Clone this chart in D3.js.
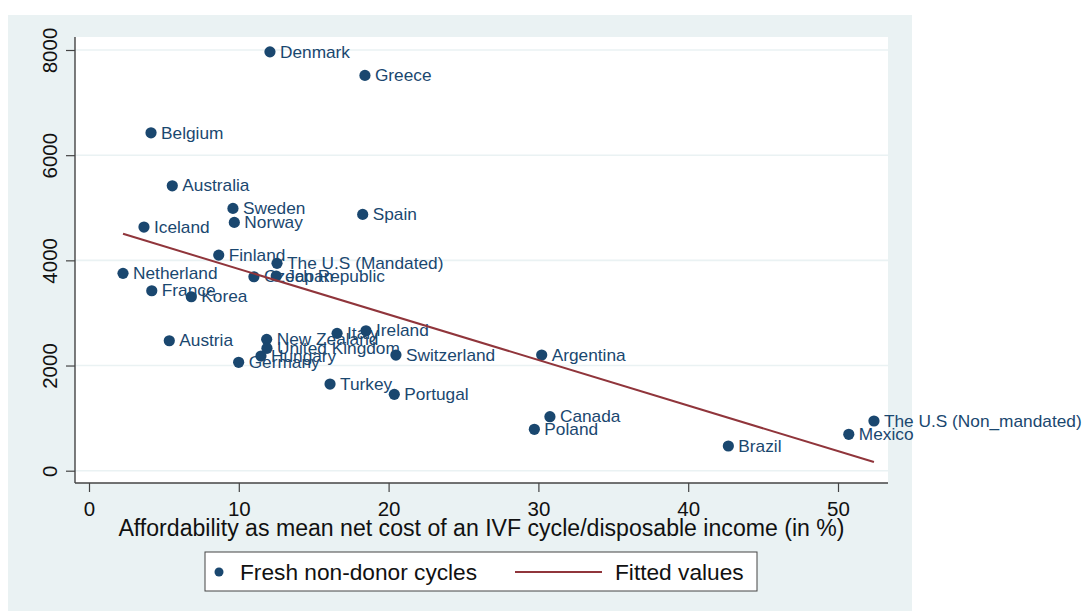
<!DOCTYPE html>
<html>
<head>
<meta charset="utf-8">
<script src="https://cdn.jsdelivr.net/npm/d3@7"></script>
<style>
  html, body { margin: 0; padding: 0; background: #fff; }
  svg { display: block; font-family: "Liberation Sans", Arial, sans-serif; }
</style>
</head>
<body>
<div id="chart"></div>
<script>
// countries, affordability (% of disposable income) and fresh non-donor cycles
const countries = [
  'Denmark', 'Greece', 'Belgium', 'Australia', 'Sweden', 'Norway', 'Spain',
  'Iceland', 'Finland', 'The U.S (Mandated)', 'Czech Republic', 'Japan',
  'Netherland', 'France', 'Korea', 'Austria', 'New Zealand', 'United Kingdom',
  'Hungary', 'Germany', 'Italy', 'Ireland', 'Switzerland', 'Turkey', 'Portugal',
  'Argentina', 'Canada', 'Poland', 'Brazil', 'Mexico', 'The U.S (Non_mandated)'
];
const affordability = [
  12.08, 18.42, 4.14, 5.56, 9.61, 9.70, 18.27,
  3.67, 8.66, 12.55, 11.01, 12.50,
  2.27, 4.19, 6.83, 5.36, 11.86, 11.88,
  11.48, 9.99, 16.56, 18.49, 20.49, 16.09, 20.38,
  30.22, 30.77, 29.73, 42.68, 50.72, 52.40
];
const cycles = [
  7965, 7517, 6425, 5418, 4988, 4722, 4874,
  4633, 4100, 3943, 3688, 3701,
  3753, 3422, 3308, 2471, 2498, 2327,
  2180, 2061, 2612, 2661, 2199, 1648, 1452,
  2199, 1027, 787, 470, 692, 945
];
// fitted values line (end points)
const fitX = [2.27, 52.40];
const fitY = [4505, 165];

const xTicks = [0, 10, 20, 30, 40, 50];
const yTicks = [0, 2000, 4000, 6000, 8000];

const xTitle = 'Affordability as mean net cost of an IVF cycle/disposable income (in %)';
const legendLabels = ['Fresh non-donor cycles', 'Fitted values'];

const W = 1086, H = 611;
const navy = '#1a476f', maroon = '#90353b', bluish = '#eaf2f3';

const plot = { left: 75, top: 37, right: 888, bottom: 483 };

const svg = d3.select('#chart').append('svg')
    .attr('width', W)
    .attr('height', H)
    .attr('viewBox', [0, 0, W, H]);

// graph region + plot region
svg.append('rect')
    .attr('x', 8).attr('y', 15)
    .attr('width', 904).attr('height', H - 15)
    .attr('fill', bluish);
svg.append('rect')
    .attr('x', plot.left).attr('y', plot.top)
    .attr('width', plot.right - plot.left).attr('height', plot.bottom - plot.top)
    .attr('fill', '#fff');

const x = d3.scaleLinear().domain([0, 50]).range([89, 838]);
const y = d3.scaleLinear().domain([0, 8000]).range([470.7, 50]);

// gridlines
svg.append('g')
    .selectAll('line')
    .data(yTicks)
    .join('line')
    .attr('x1', plot.left).attr('x2', plot.right)
    .attr('y1', d => y(d)).attr('y2', d => y(d))
    .attr('stroke', bluish)
    .attr('stroke-width', 1.6);

// y axis
const yAxis = svg.append('g')
    .attr('transform', `translate(${plot.left},0)`)
    .call(d3.axisLeft(y).tickValues(yTicks).tickSize(9).tickFormat(d3.format('d')));
yAxis.select('.domain').remove();
yAxis.selectAll('line').attr('stroke', '#444').attr('stroke-width', 1.2);
yAxis.selectAll('text')
    .attr('transform', 'rotate(-90)')
    .attr('x', 0)
    .attr('y', -18)
    .attr('dy', 0)
    .attr('text-anchor', 'middle')
    .attr('fill', '#111')
    .style('font-size', '20.5px');
svg.append('line')
    .attr('x1', plot.left).attr('x2', plot.left)
    .attr('y1', plot.top).attr('y2', plot.bottom)
    .attr('stroke', '#444').attr('stroke-width', 1.4);

// x axis
const xAxis = svg.append('g')
    .attr('transform', `translate(0,${plot.bottom})`)
    .call(d3.axisBottom(x).tickValues(xTicks).tickSize(9));
xAxis.select('.domain').remove();
xAxis.selectAll('line').attr('stroke', '#444').attr('stroke-width', 1.2);
xAxis.selectAll('text')
    .attr('y', 33)
    .attr('dy', 0)
    .attr('fill', '#111')
    .style('font-size', '20.5px');
svg.append('line')
    .attr('x1', plot.left).attr('x2', plot.right)
    .attr('y1', plot.bottom).attr('y2', plot.bottom)
    .attr('stroke', '#444').attr('stroke-width', 1.4);

svg.append('text')
    .attr('x', (plot.left + plot.right) / 2)
    .attr('y', 536)
    .attr('text-anchor', 'middle')
    .attr('fill', '#111')
    .style('font-size', '23.1px')
    .text(xTitle);

// scatter points + labels
const pts = countries.map((c, i) => ({ name: c, ax: affordability[i], cy: cycles[i] }));

svg.append('g')
    .selectAll('circle')
    .data(pts)
    .join('circle')
    .attr('cx', d => x(d.ax))
    .attr('cy', d => y(d.cy))
    .attr('r', 5.6)
    .attr('fill', navy);

svg.append('g')
    .selectAll('text')
    .data(pts)
    .join('text')
    .attr('transform', d => `translate(${x(d.ax) + 10},${y(d.cy) + 5.7}) scale(1.08,1)`)
    .attr('fill', navy)
    .style('font-size', '16px')
    .text(d => d.name);

// fitted line
const line = d3.line()
    .x(d => x(d[0]))
    .y(d => y(d[1]));
svg.append('path')
    .datum(fitX.map((v, i) => [v, fitY[i]]))
    .attr('d', line)
    .attr('fill', 'none')
    .attr('stroke', maroon)
    .attr('stroke-width', 2);

// legend
const lg = svg.append('g');
lg.append('rect')
    .attr('x', 205).attr('y', 552)
    .attr('width', 552).attr('height', 39)
    .attr('fill', '#fff')
    .attr('stroke', '#444')
    .attr('stroke-width', 1);
lg.append('circle')
    .attr('cx', 219).attr('cy', 572)
    .attr('r', 4.5)
    .attr('fill', navy);
lg.append('text')
    .attr('x', 240).attr('y', 580)
    .attr('fill', '#111')
    .style('font-size', '22.7px')
    .text(legendLabels[0]);
lg.append('line')
    .attr('x1', 515).attr('x2', 602)
    .attr('y1', 572).attr('y2', 572)
    .attr('stroke', maroon)
    .attr('stroke-width', 2);
lg.append('text')
    .attr('x', 615).attr('y', 580)
    .attr('fill', '#111')
    .style('font-size', '22.7px')
    .text(legendLabels[1]);
</script>
</body>
</html>
